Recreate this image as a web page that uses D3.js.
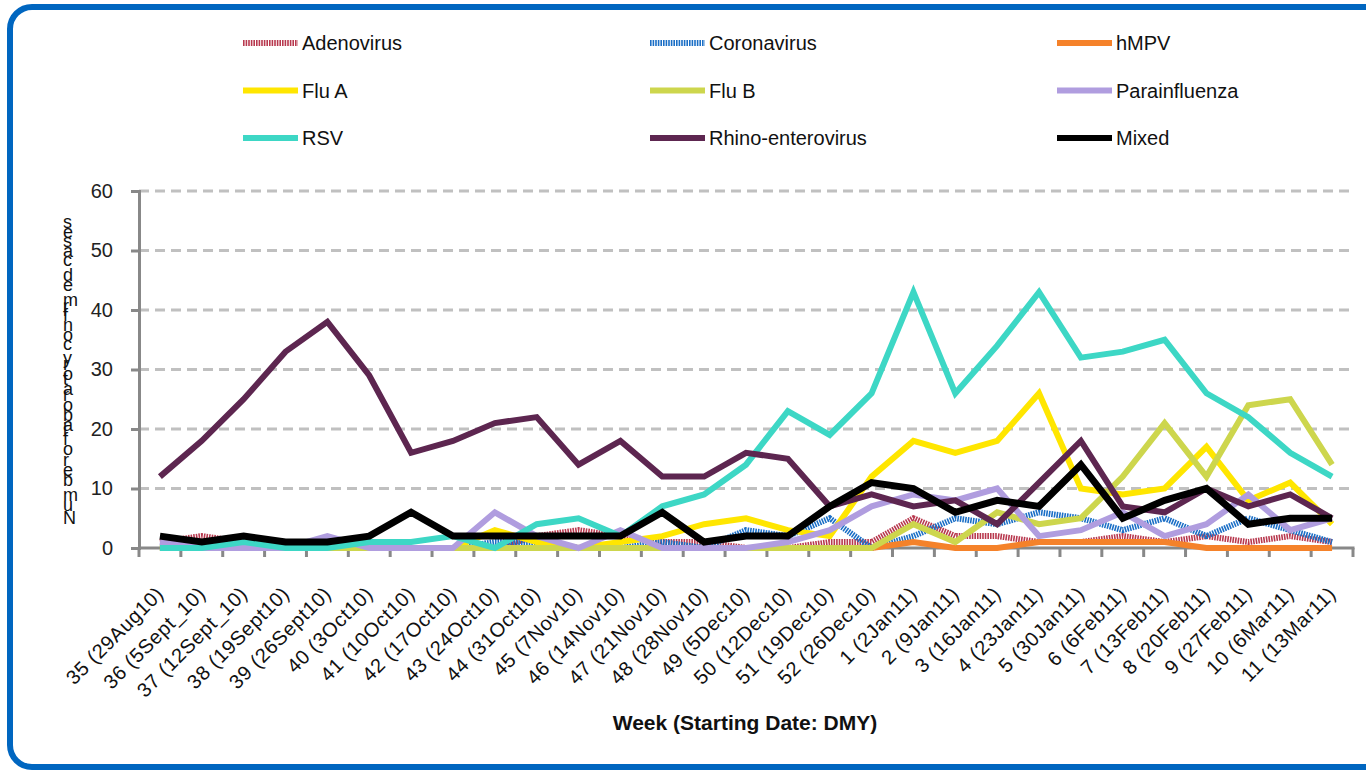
<!DOCTYPE html>
<html>
<head>
<meta charset="utf-8">
<script src="https://cdn.jsdelivr.net/npm/d3@7"></script>
<style>
  body { margin: 0; background: #fff; }
  svg { display: block; font-family: "Liberation Sans", Arial, sans-serif; }
</style>
</head>
<body>
<svg id="chart" width="1366" height="770"></svg>
<script>
// week labels (x axis)
let weeks = ["35 (29Aug10)", "36 (5Sept_10)", "37 (12Sept_10)", "38 (19Sept10)", "39 (26Sept10)",
  "40 (3Oct10)", "41 (10Oct10)", "42 (17Oct10)", "43 (24Oct10)", "44 (31Oct10)", "45 (7Nov10)",
  "46 (14Nov10)", "47 (21Nov10)", "48 (28Nov10)", "49 (5Dec10)", "50 (12Dec10)", "51 (19Dec10)",
  "52 (26Dec10)", "1 (2Jan11)", "2 (9Jan11)", "3 (16Jan11)", "4 (23Jan11)", "5 (30Jan11)",
  "6 (6Feb11)", "7 (13Feb11)", "8 (20Feb11)", "9 (27Feb11)", "10 (6Mar11)", "11 (13Mar11)"];

let yTicks = [0, 10, 20, 30, 40, 50, 60];

// number of cases per week
let adenovirus = [1, 2, 1, 0, 0, 0, 0, 0, 0, 2, 3, 2, 1, 1, 0, 0, 1, 1, 5, 2, 2, 1, 1, 2, 1, 2, 1, 2, 1];
let coronavirus = [0, 0, 0, 0, 0, 0, 0, 0, 1, 1, 0, 0, 1, 0, 3, 2, 5, 0, 2, 5, 4, 6, 5, 3, 5, 2, 5, 3, 1];
let hmpv = [0, 0, 0, 0, 0, 0, 0, 0, 0, 0, 0, 0, 0, 0, 0, 0, 0, 0, 1, 0, 0, 1, 1, 1, 1, 0, 0, 0, 0];
let fluA = [0, 0, 0, 0, 0, 0, 0, 0, 3, 1, 0, 1, 2, 4, 5, 3, 2, 12, 18, 16, 18, 26, 10, 9, 10, 17, 8, 11, 4];
let fluB = [0, 0, 0, 0, 0, 0, 0, 0, 0, 0, 0, 0, 0, 0, 0, 0, 0, 0, 4, 1, 6, 4, 5, 12, 21, 12, 24, 25, 14];
let parainfluenza = [1, 0, 0, 0, 2, 0, 0, 0, 6, 2, 0, 3, 0, 0, 0, 1, 3, 7, 9, 8, 10, 2, 3, 6, 2, 4, 9, 3, 5];
let rsv = [0, 0, 1, 0, 0, 1, 1, 2, 0, 4, 5, 2, 7, 9, 14, 23, 19, 26, 43, 26, 34, 43, 32, 33, 35, 26, 22, 16, 12];
let rhino = [12, 18, 25, 33, 38, 29, 16, 18, 21, 22, 14, 18, 12, 12, 16, 15, 7, 9, 7, 8, 4, 11, 18, 7, 6, 10, 7, 9, 5];
let mixed = [2, 1, 2, 1, 1, 2, 6, 2, 2, 2, 2, 2, 6, 1, 2, 2, 7, 11, 10, 6, 8, 7, 14, 5, 8, 10, 4, 5, 5];

let seriesNames = ["Adenovirus", "Coronavirus", "hMPV", "Flu A", "Flu B", "Parainfluenza", "RSV", "Rhino-enterovirus", "Mixed"];
let seriesColors = ["#b8394f", "#1b6fc6", "#f5822a", "#ffe600", "#cdd64d", "#b09ddf", "#3dd7c5", "#5d2650", "#000000"];
let seriesValues = [adenovirus, coronavirus, hmpv, fluA, fluB, parainfluenza, rsv, rhino, mixed];

let series = seriesNames.map((name, i) => ({
  name: name,
  color: seriesColors[i],
  values: seriesValues[i],
  hatched: i < 2
}));

let svg = d3.select('#chart');

// frame (runs off the right edge)
svg.append('rect')
   .attr('x', 10).attr('y', 7)
   .attr('width', 1440).attr('height', 760)
   .attr('rx', 22)
   .attr('fill', 'none')
   .attr('stroke', '#0066c0')
   .attr('stroke-width', 6);

let plotLeft = 139, plotRight = 1353, plotTop = 191, plotBottom = 548;

let x = d3.scaleBand()
          .domain(weeks)
          .range([plotLeft, plotRight]);

let y = d3.scaleLinear()
          .domain([0, 60])
          .range([plotBottom, plotTop]);

// gridlines
svg.append('g')
   .selectAll('line')
   .data(yTicks.slice(1))
   .enter()
   .append('line')
   .attr('x1', plotLeft).attr('x2', plotRight)
   .attr('y1', d => y(d)).attr('y2', d => y(d))
   .attr('stroke', '#c0c0c0')
   .attr('stroke-width', 3)
   .attr('stroke-dasharray', '10,6');

// y axis
let yAxis = svg.append('g')
   .attr('transform', `translate(${plotLeft},0)`)
   .call(d3.axisLeft(y).tickValues(yTicks).tickSize(8).tickPadding(18));
yAxis.select('.domain').attr('stroke', '#888').attr('stroke-width', 3);
yAxis.selectAll('.tick line').attr('stroke', '#888').attr('stroke-width', 3);
yAxis.selectAll('.tick text')
     .attr('font-size', 20)
     .attr('font-family', '"Liberation Sans", Arial, sans-serif')
     .attr('fill', '#222');

// x axis: ticks at the band edges
let xAxis = svg.append('g')
   .attr('transform', `translate(0,${plotBottom})`);
xAxis.append('line')
     .attr('x1', plotLeft).attr('x2', plotRight + 1.5)
     .attr('stroke', '#888').attr('stroke-width', 3);
xAxis.selectAll('.edge')
     .data(d3.range(weeks.length + 1))
     .enter()
     .append('line')
     .attr('class', 'edge')
     .attr('x1', i => plotLeft + i * x.bandwidth())
     .attr('x2', i => plotLeft + i * x.bandwidth())
     .attr('y1', 0).attr('y2', 9)
     .attr('stroke', '#888').attr('stroke-width', 3);

svg.append('g')
   .selectAll('text')
   .data(weeks)
   .enter()
   .append('text')
   .attr('transform', d => `translate(${x(d) + x.bandwidth() / 2 + 5},${plotBottom + 47}) rotate(-45)`)
   .attr('text-anchor', 'end')
   .attr('font-size', 20)
   .attr('letter-spacing', 0.6)
   .attr('fill', '#111')
   .text(d => d);

// axis titles
svg.append('text')
   .attr('x', 745).attr('y', 730)
   .attr('text-anchor', 'middle')
   .attr('font-size', 21)
   .attr('font-weight', 'bold')
   .attr('fill', '#111')
   .text('Week (Starting Date: DMY)');

// y title: runs bottom to top, each glyph turned back upright
svg.append('text')
   .attr('transform', 'translate(63,524) rotate(-90)')
   .attr('rotate', 90)
   .attr('font-size', 18)
   .attr('fill', '#111')
   .text('Number of laboratory confirmed cases');

// lines
let line = d3.line()
             .x((d, i) => x(weeks[i]) + x.bandwidth() / 2)
             .y(d => y(d));

svg.append('g')
   .selectAll('path')
   .data(series)
   .enter()
   .append('path')
   .attr('d', d => line(d.values))
   .attr('fill', 'none')
   .attr('stroke', d => d.color)
   .attr('stroke-width', d => d.name === 'Mixed' ? 7 : 6)
   .attr('stroke-linejoin', 'miter')
   .attr('stroke-dasharray', d => d.hatched ? '1.6,1' : null);

// legend
let legend = svg.append('g')
   .selectAll('g')
   .data(series)
   .enter()
   .append('g')
   .attr('transform', (d, i) => `translate(${243 + (i % 3) * 407},${43 + Math.floor(i / 3) * 47.5})`);

legend.append('line')
      .attr('x1', 0).attr('x2', 55)
      .attr('stroke', d => d.color)
      .attr('stroke-width', 6)
      .attr('stroke-dasharray', d => d.hatched ? '1.6,1' : null);

legend.append('text')
      .attr('x', 59)
      .attr('dy', '0.35em')
      .attr('font-size', 20)
      .attr('fill', '#111')
      .text(d => d.name);
</script>
</body>
</html>
